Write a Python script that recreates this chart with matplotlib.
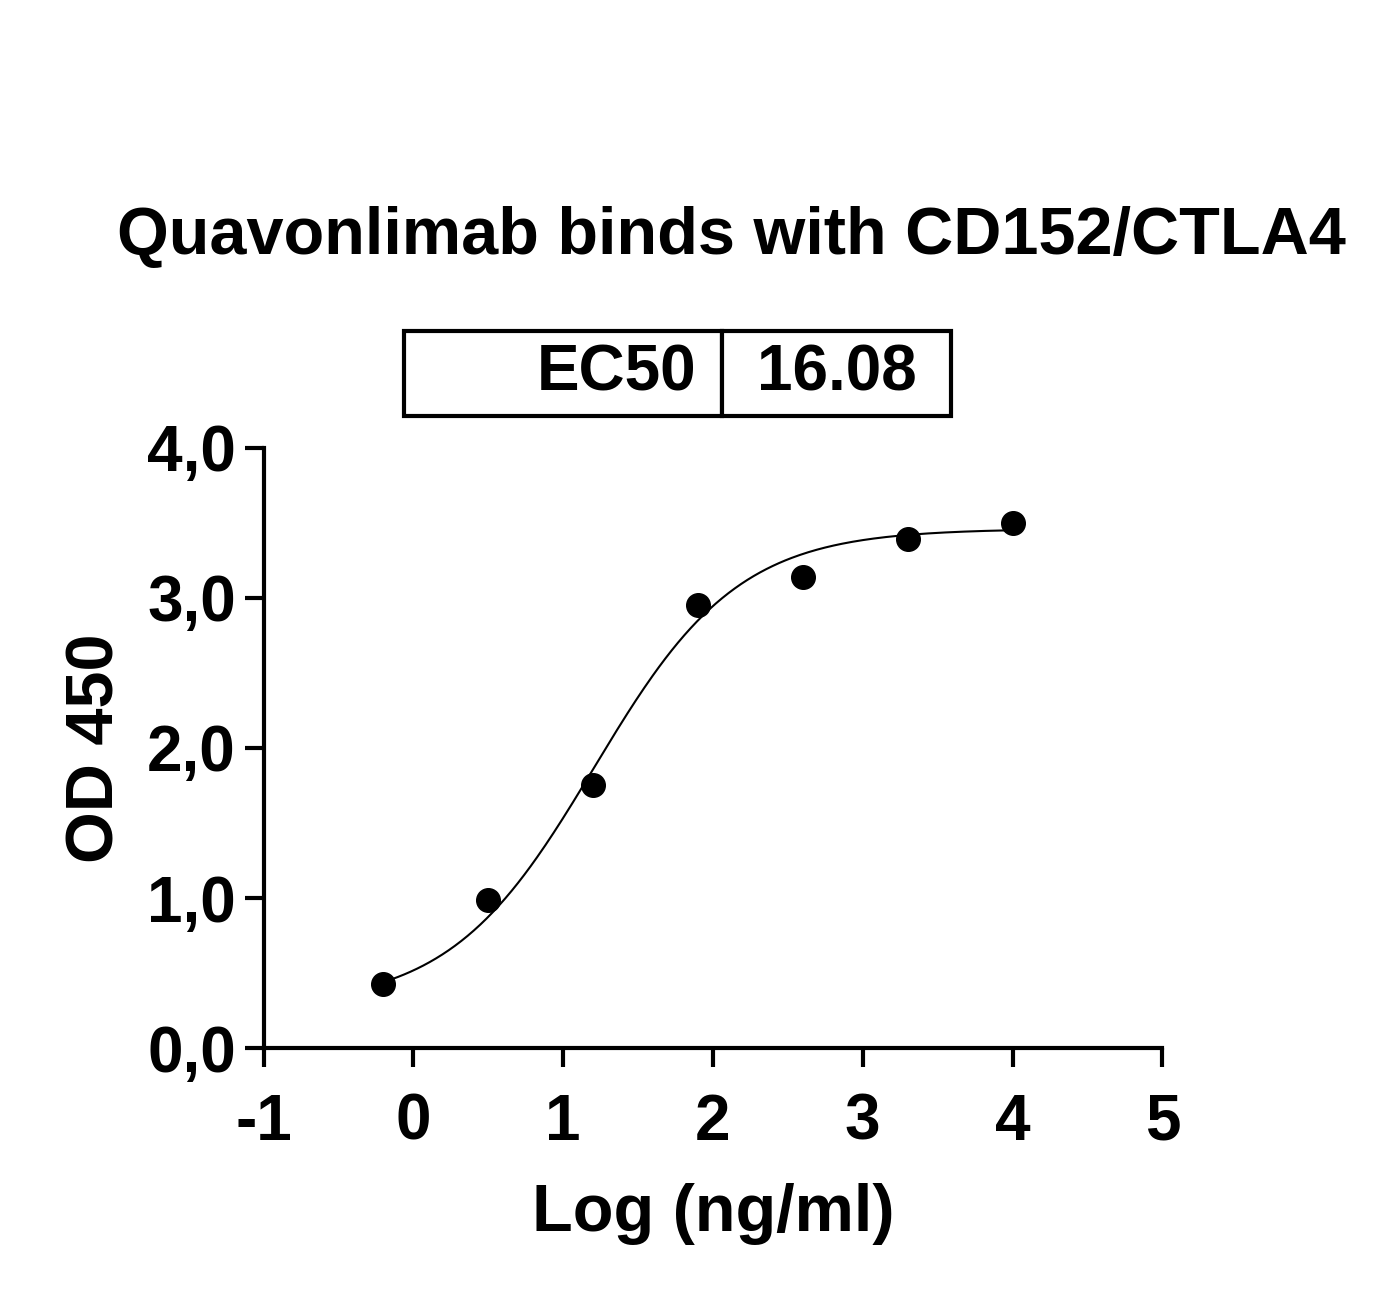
import matplotlib.pyplot as plt
import numpy as np

plt.rcParams.update({
    "font.family": ["Liberation Sans", "DejaVu Sans"],
    "font.weight": "bold",
})

# data
log_conc = [-0.2, 0.5, 1.2, 1.9, 2.6, 3.3, 4.0]
od450 = [0.43, 0.99, 1.75, 2.95, 3.14, 3.39, 3.50]
# 4PL fit: bottom, top, logEC50, hill
fit = [0.276, 3.46, 1.206, 0.9]
ec50 = "16.08"
xtick_labels = ['-1', '0', '1', '2', '3', '4', '5']
ytick_labels = ['0,0', '1,0', '2,0', '3,0', '4,0']

fig = plt.figure(figsize=(13.87, 12.94), dpi=100)
ax = fig.add_axes([0.19, 0.19, 0.648, 0.464])

xs = np.linspace(-0.2, 4.0, 300)
b, t, le, h = fit
ax.plot(xs, b + (t - b) / (1 + 10 ** ((le - xs) * h)), color='black', lw=1.5)
ax.plot(log_conc, od450, 'o', color='black', ms=17)

ax.set_xlim(-1, 5)
ax.set_ylim(0, 4)
ax.set_xticks(range(-1, 6))
ax.set_xticklabels(xtick_labels)
ax.set_yticks([0, 1, 2, 3, 4])
ax.set_yticklabels(ytick_labels)
for s in ['top', 'right']:
    ax.spines[s].set_visible(False)
for s in ['left', 'bottom']:
    ax.spines[s].set_linewidth(3)
ax.tick_params(width=3, length=14, labelsize=46)
ax.tick_params(axis='x', pad=18)
ax.tick_params(axis='y', pad=6)
ax.set_xlabel('Log (ng/ml)', fontsize=48, fontweight='bold', labelpad=22)
ax.set_ylabel('OD 450', fontsize=48, fontweight='bold', labelpad=14)
fig.text(0.527, 0.817, 'Quavonlimab binds with CD152/CTLA4', ha='center',
         va='center', fontsize=48, fontweight='bold')

tab = ax.table(cellText=[['EC50', ec50]], cellLoc='center',
               colWidths=[0.581, 0.419], bbox=[0.156, 1.053, 0.609, 0.142])
tab.auto_set_font_size(False)
for (r, c), cell in tab.get_celld().items():
    cell.set_linewidth(3)
    cell.get_text().set_fontsize(46)
    cell.get_text().set_fontweight('bold')
    if c == 0:
        cell.get_text().set_horizontalalignment('right')
        cell.PAD = 0.08

fig.savefig('out.png', dpi=100)
